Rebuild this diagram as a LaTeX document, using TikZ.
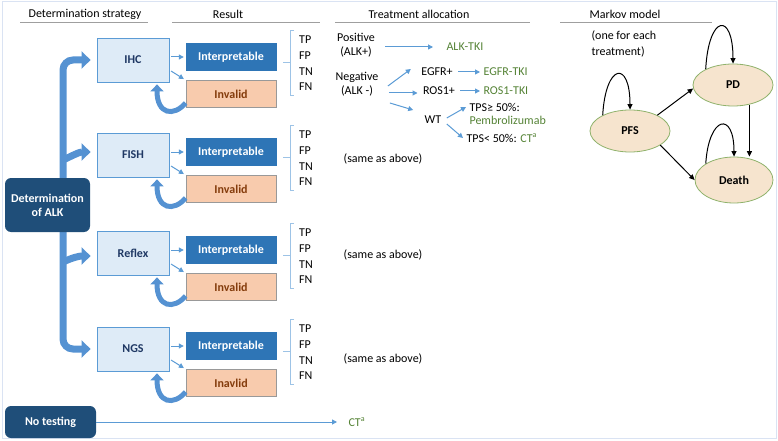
\documentclass[tikz,border=0pt]{standalone}
\usepackage{fontspec}
\setmainfont{Carlito}
\usepackage{xcolor}
\usetikzlibrary{shapes.geometric, arrows.meta, positioning, calc}

\definecolor{navy}{HTML}{1F4E79}
\definecolor{midblue}{HTML}{2E75B6}
\definecolor{paleblue}{HTML}{DEEBF7}
\definecolor{arrowblue}{HTML}{5B9BD5}
\definecolor{trunkblue}{HTML}{5592D2}
\definecolor{bracketblue}{HTML}{9DC3E6}
\definecolor{peach}{HTML}{F8CBAD}
\definecolor{rust}{HTML}{843C0C}
\definecolor{tkigreen}{HTML}{548235}
\definecolor{beige}{HTML}{F6E4CE}
\definecolor{stateedge}{HTML}{8FB26B}
\definecolor{framegray}{HTML}{DAE3F3}
\definecolor{textnavy}{HTML}{1F3864}

\tikzset{
  boldtext/.style={font=\bfseries\fontsize{12}{14}\selectfont},
  strat/.style={draw=arrowblue, fill=paleblue, line width=0.8pt, minimum width=72pt, minimum height=44pt, boldtext, text=textnavy},
  interp/.style={draw=midblue, fill=midblue, minimum width=90pt, minimum height=27pt, boldtext, text=white},
  invalid/.style={draw=gray!80, fill=peach, line width=0.8pt, minimum width=90pt, minimum height=27pt, boldtext, text=rust},
  darkbox/.style={fill=navy, rounded corners=6pt, text=white, boldtext, align=center},
  res/.style={align=left, font=\fontsize{12}{15.6}\selectfont, inner sep=0pt},
  tki/.style={text=tkigreen},
  hline/.style={draw=gray!75, line width=0.6pt},
  bracket/.style={draw=bracketblue, line width=0.8pt},
  small/.style={draw=arrowblue, line width=1pt, -{Triangle[length=5pt,width=5pt]}, shorten <=2pt, shorten >=2pt},
  treat/.style={draw=arrowblue, line width=1pt, -{Triangle[length=5pt,width=5pt]}},
  trunk/.style={draw=trunkblue, line width=7pt, rounded corners=10pt, {Triangle[length=9pt,width=17pt]}-{Triangle[length=9pt,width=17pt]}},
  branch/.style={draw=trunkblue, line width=7pt, -{Triangle[length=9pt,width=17pt]}},
  loopback/.style={draw=trunkblue, line width=5pt, -{Triangle[length=7pt,width=13pt]}},
  mstate/.style={ellipse, draw=stateedge, fill=beige, line width=0.8pt, minimum width=80pt, minimum height=42pt, inner sep=0pt, boldtext},
  mk/.style={draw=black, line width=1pt, -{Triangle[length=5.5pt,width=5pt]}}
}

\begin{document}
\begin{tikzpicture}[x=1pt, y=-1pt, font=\fontsize{12}{14}\selectfont]
\useasboundingbox (0,0) rectangle (778,441);
\draw[framegray, line width=1pt] (2,2) rectangle (776,438);

% Column headers
\node (hstrat) at (85,14) {Determination strategy};
\node (hres) at (228,14) {Result};
\node (htreat) at (419,14) {Treatment allocation};
\node (hmarkov) at (625,14) {Markov model};
\draw[hline] (20,22) -- (148,22);
\draw[hline] (172,22) -- (320,22);
\draw[hline] (335,22) -- (530,22);
\draw[hline] (560,22) -- (712,22);

% Strategies and their results
\foreach \name/\lab/\y/\bad in {ihc/IHC/60/Invalid, fish/FISH/155/Invalid, reflex/Reflex/253/Invalid, ngs/NGS/349/Inavlid} {
    \node[strat] (\name) at (133,\y) {\lab};
    \node[interp] (\name-ip) at (231,{\y-3}) {Interpretable};
    \node[invalid] (\name-iv) at (231,{\y+34}) {\bad};
    \draw[small] (\name.east |- \name-ip) -- (\name-ip.west);
    \draw[small] ([yshift=-10pt]\name.east) -- (\name-iv.north west);
    \draw[loopback] ([yshift=-9pt]\name-iv.west) .. controls +(-12,14) and +(0,30) .. ([xshift=24pt,yshift=-2pt]\name.south);
    \node[res, anchor=west] (\name-res) at (299,{\y+3.5}) {TP\\FP\\TN\\FN};
    \draw[bracket] (294,{\y-30}) -- (290,{\y-30}) -- (290,{\y+35}) -- (294,{\y+35});
    \draw[bracket] (283,{\y+2}) -- (290,{\y+2});
}

% Trunk arrow (left)
\draw[trunk] ([xshift=-6pt]ihc.west) -| (63,200) |- ([xshift=-6pt]ngs.west);
\draw[branch] (63,160) to[out=25,in=180] ([xshift=-6pt,yshift=3pt]fish.west);
\draw[branch] (63,262) to[out=25,in=180] ([xshift=-6pt,yshift=-3pt]reflex.west);
\node[darkbox, minimum width=85pt, minimum height=54pt] (alk) at (47.5,205) {Determination\\of ALK};

% No testing
\node[darkbox, minimum width=91pt, minimum height=32pt] (notest) at (50.5,422) {No testing};
\node[tki, anchor=west] (ctnone) at (345,422) {CT\textsuperscript{a}};
\draw[treat, shorten >=8pt] (notest) -- (ctnone);

% Treatment allocation
\node[align=center, font=\fontsize{12}{14}\selectfont] (pos) at (356,45) {Positive\\(ALK+)};
\node[tki, anchor=west] (alktki) at (443,47) {ALK-TKI};
\draw[treat, shorten <=7pt, shorten >=10pt] (pos.east |- alktki) -- (alktki.west);
\node[align=center, font=\fontsize{12}{14}\selectfont] (neg) at (357,84) {Negative\\(ALK -)};
\node (egfr) at (437,72) {EGFR+};
\node (ros) at (439,91) {ROS1+};
\node (wt) at (433,120) {WT};
\draw[treat] ($(neg.east)+(6,2)$) -- ($(egfr.west)+(-7,-3)$);
\draw[treat] ($(neg.east)+(7,9)$) -- ($(ros.west)+(-2,2)$);
\draw[treat] ($(neg.east)+(8,19)$) -- ($(wt.west)+(-8,-10)$);
\node[tki, anchor=west] (egfrtki) at (480,72) {EGFR-TKI};
\node[tki, anchor=west] (rostki) at (480,91) {ROS1-TKI};
\draw[treat, shorten <=2pt] (egfr) -- (egfrtki);
\draw[treat, shorten <=2pt] (ros) -- (rostki);
\node[anchor=west] (tpshi) at (466,107) {TPS≥ 50\%:};
\node[tki, anchor=west] (pembro) at (466,120) {Pembrolizumab};
\node[anchor=west] (tpslo) at (463,138) {TPS< 50\%: \textcolor{tkigreen}{CT\textsuperscript{a}}};
\draw[treat] ($(wt.east)+(2,-2)$) -- (tpshi.west);
\draw[treat] ($(wt.east)+(2,4)$) -- (tpslo.west);
\node (same1) at (383,159) {(same as above)};
\node (same2) at (383,255) {(same as above)};
\node (same3) at (383,359) {(same as above)};

% Markov model (right)
\node[align=left, anchor=north west, font=\fontsize{12}{16}\selectfont] (note) at (588,27) {(one for each\\treatment)};
\node[mstate] (pfs) at (630,131) {PFS};
\node[mstate] (pd) at (733,85) {PD};
\node[mstate, minimum width=78pt, minimum height=46pt] (death) at (734,180) {Death};
\draw[mk] (pfs.150) .. controls +(3,-52) and +(0,-50) .. (pfs.north);
\draw[mk] (pd.150) .. controls +(3,-55) and +(0,-52) .. (pd.north);
\draw[mk] (death.150) .. controls +(3,-48) and +(0,-46) .. (death.north);
\draw[mk] (pfs.30) -- (pd.185);
\draw[mk] (pfs.-25) -- (death.180);
\draw[mk] (pd.-50) -- (pd.-50 |- death.north);
\end{tikzpicture}
\end{document}
